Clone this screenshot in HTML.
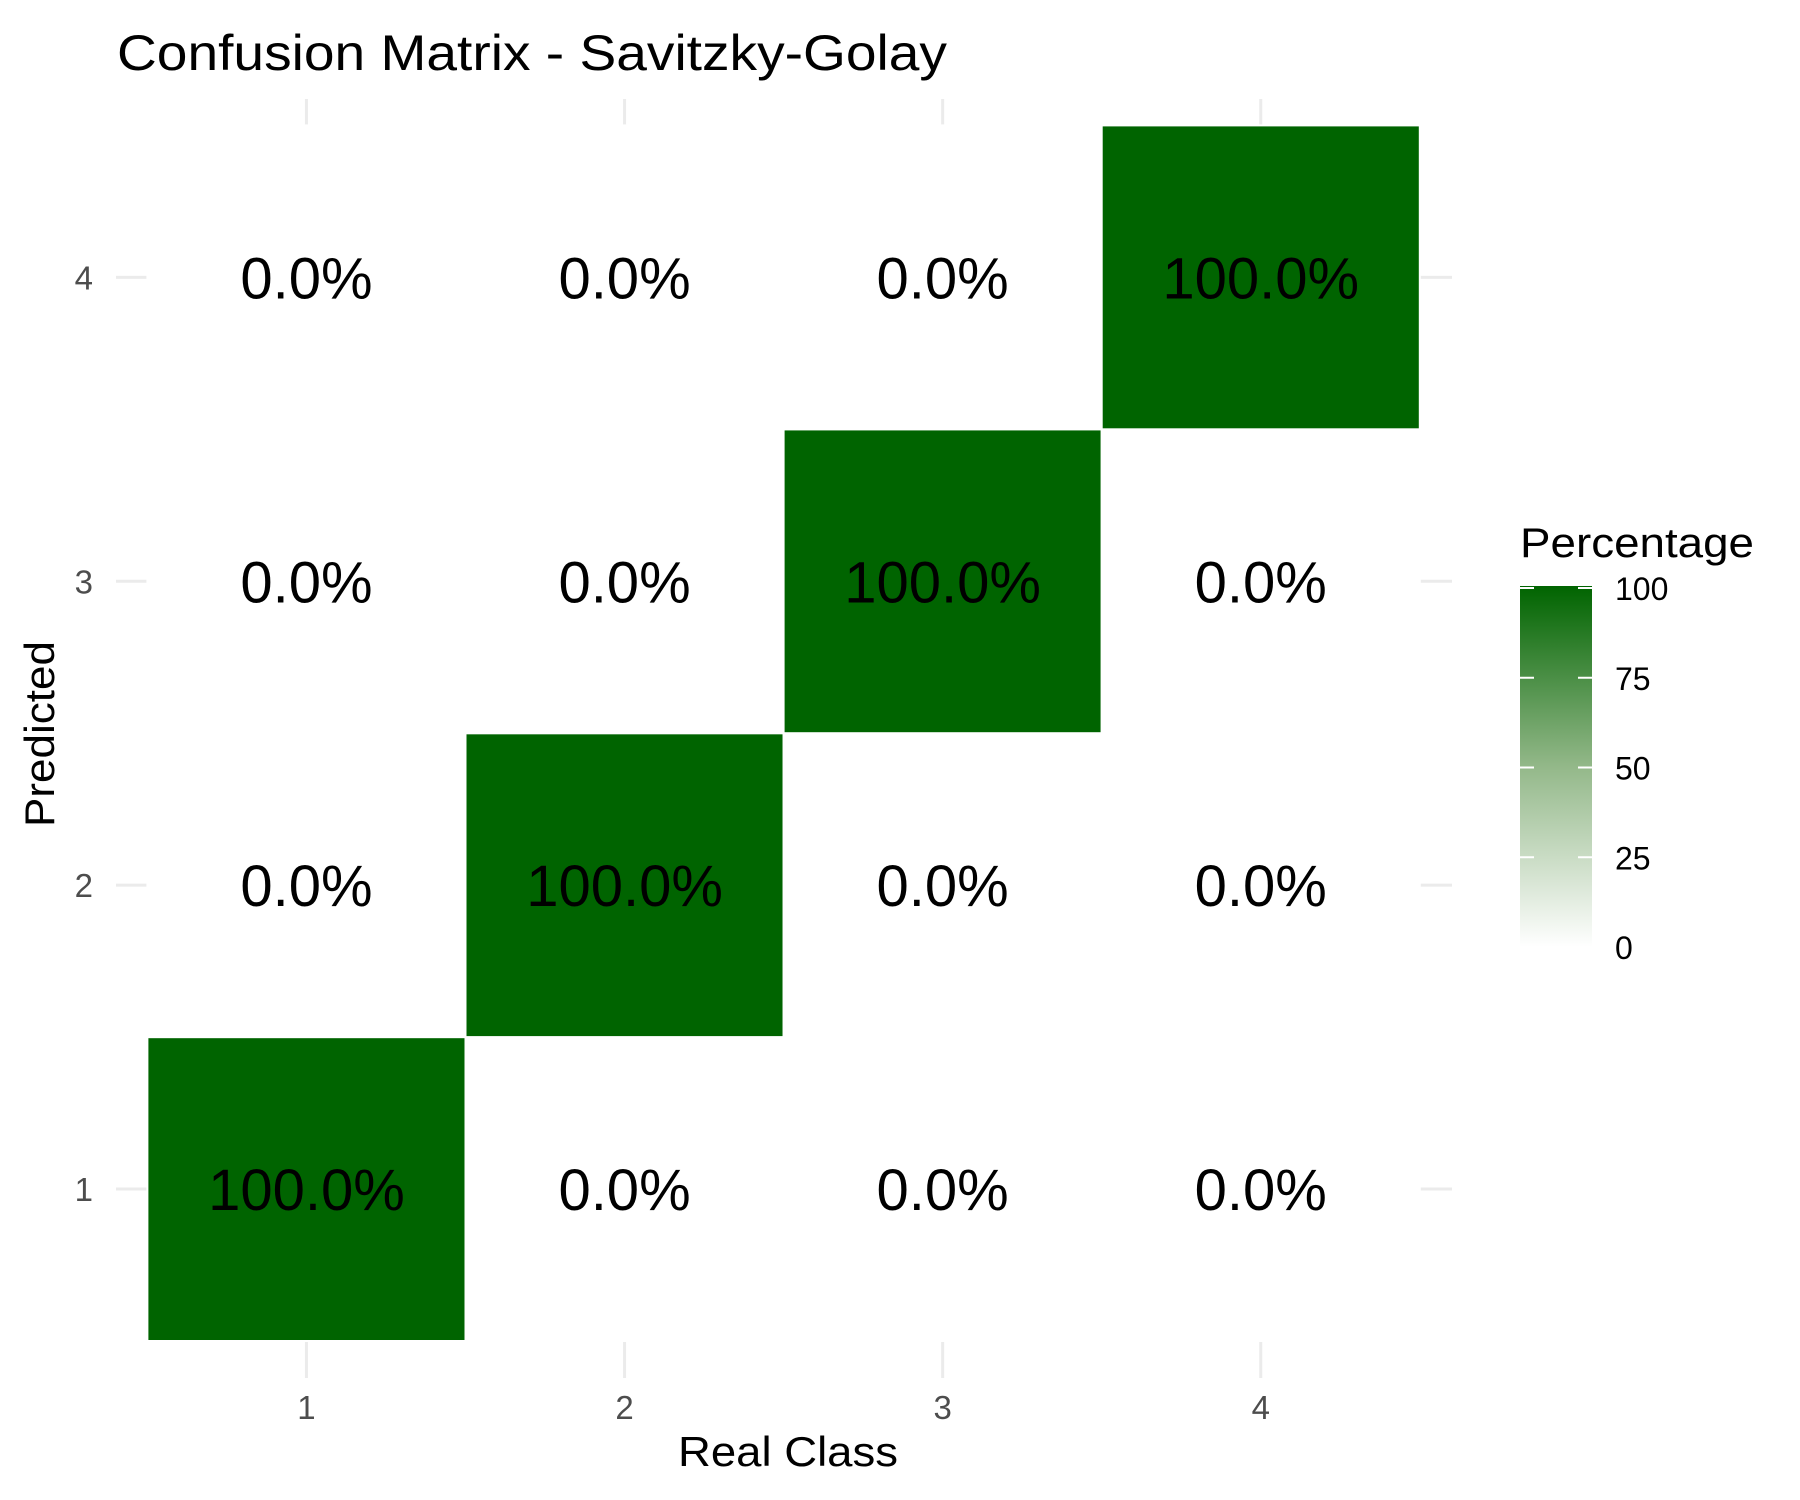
<!DOCTYPE html>
<html><head><meta charset="utf-8"><style>
html,body{margin:0;padding:0;background:#fff;}
svg{display:block;font-family:"Liberation Sans",Arial,sans-serif;}
</style></head><body>
<svg id="chart" width="1800" height="1500" viewBox="0 0 1800 1500">
<defs>
<linearGradient id="grad" x1="0" y1="1" x2="0" y2="0">
<stop offset="0" stop-color="#ffffff"/>
<stop offset="0.5" stop-color="#93b889"/>
<stop offset="1" stop-color="#006400"/>
</linearGradient>
</defs>
<text x="117" y="70" font-size="50" textLength="830" lengthAdjust="spacingAndGlyphs" fill="#000">Confusion Matrix - Savitzky-Golay</text>
<g id="grid"></g>
<g id="tiles"></g>
<g id="labels"></g>
<g id="axes"></g>
<text x="788" y="1466" font-size="42" text-anchor="middle" textLength="220" lengthAdjust="spacingAndGlyphs">Real Class</text>
<text transform="translate(54,734) rotate(-90)" font-size="42" text-anchor="middle" textLength="186" lengthAdjust="spacingAndGlyphs">Predicted</text>
<g>
<text x="1520" y="557" font-size="42" textLength="234" lengthAdjust="spacingAndGlyphs">Percentage</text>
<rect x="1520" y="586" width="72" height="361" fill="url(#grad)"/>
<g id="legticks"></g>
</g>
</svg>
<script>
const realClasses = [1, 2, 3, 4];
const predClasses = [1, 2, 3, 4];
// values[predicted-1][real-1]
const values = [
  [100, 0, 0, 0],
  [0, 100, 0, 0],
  [0, 0, 100, 0],
  [0, 0, 0, 100]
];
const legendTicks = [0, 25, 50, 75, 100];

const NS = "http://www.w3.org/2000/svg";
const xStep = 318.1, x0 = 147.4;
const yStep = 303.9, yBottom = 1341;
function xCenter(c){ return x0 + (realClasses.indexOf(c) + 0.5) * xStep; }
function yCenter(p){ return yBottom - (predClasses.indexOf(p) + 0.5) * yStep; }
function colorFor(v){
  const t = v / 100;
  const r = Math.round(255 + (0 - 255) * t), g = Math.round(255 + (100 - 255) * t), b = Math.round(255 + (0 - 255) * t);
  return `rgb(${r},${g},${b})`;
}
function mk(tag, attrs, parent){
  const e = document.createElementNS(NS, tag);
  for (const k in attrs) e.setAttribute(k, attrs[k]);
  parent.appendChild(e);
  return e;
}
const grid = document.getElementById('grid');
const tiles = document.getElementById('tiles');
const labels = document.getElementById('labels');
const axes = document.getElementById('axes');
const panelL = 116, panelR = 1452, panelT = 99, panelB = 1378;
realClasses.forEach(c => {
  const x = xCenter(c);
  const l = mk('line', {x1:x, x2:x, y1:panelT, y2:panelB, stroke:'#ebebeb', 'stroke-width':3}, grid);
  
  
  const t = mk('text', {x:x, y:1419, 'font-size':33, 'text-anchor':'middle', fill:'#4d4d4d'}, axes);
  t.textContent = c;
  
  
});
predClasses.forEach(p => {
  const y = yCenter(p);
  const l = mk('line', {x1:panelL, x2:panelR, y1:y, y2:y, stroke:'#ebebeb', 'stroke-width':3}, grid);
  
  
  const t = mk('text', {x:93, y:y + 12, 'font-size':33, 'text-anchor':'end', fill:'#4d4d4d'}, axes);
  t.textContent = p;
  
  
});
predClasses.forEach((p, pi) => {
  realClasses.forEach((c, ci) => {
    const v = values[pi][ci];
    const cx = xCenter(c), cy = yCenter(p);
    const r = mk('rect', {x:cx - xStep/2, y:cy - yStep/2, width:xStep, height:yStep, fill:colorFor(v), stroke:'#fff', 'stroke-width':2}, tiles);
    
    
    const t = mk('text', {x:cx, y:cy + 21, 'font-size':58, 'text-anchor':'middle', fill:'#000'}, labels);
    t.textContent = v.toFixed(1) + '%';
    
    
  });
});
const lg = document.getElementById('legticks');
const barTop = 588, barBot = 947;
legendTicks.forEach(v => {
  const y = barBot - (v / 100) * (barBot - barTop);
  mk('line', {x1:1520, x2:1534, y1:y, y2:y, stroke:'#fff', 'stroke-width':2}, lg);
  mk('line', {x1:1578, x2:1592, y1:y, y2:y, stroke:'#fff', 'stroke-width':2}, lg);
  const t = mk('text', {x:1615, y:y + 12, 'font-size':32, fill:'#000'}, lg);
  t.textContent = v;
  
  
});
</script>
</body></html>
